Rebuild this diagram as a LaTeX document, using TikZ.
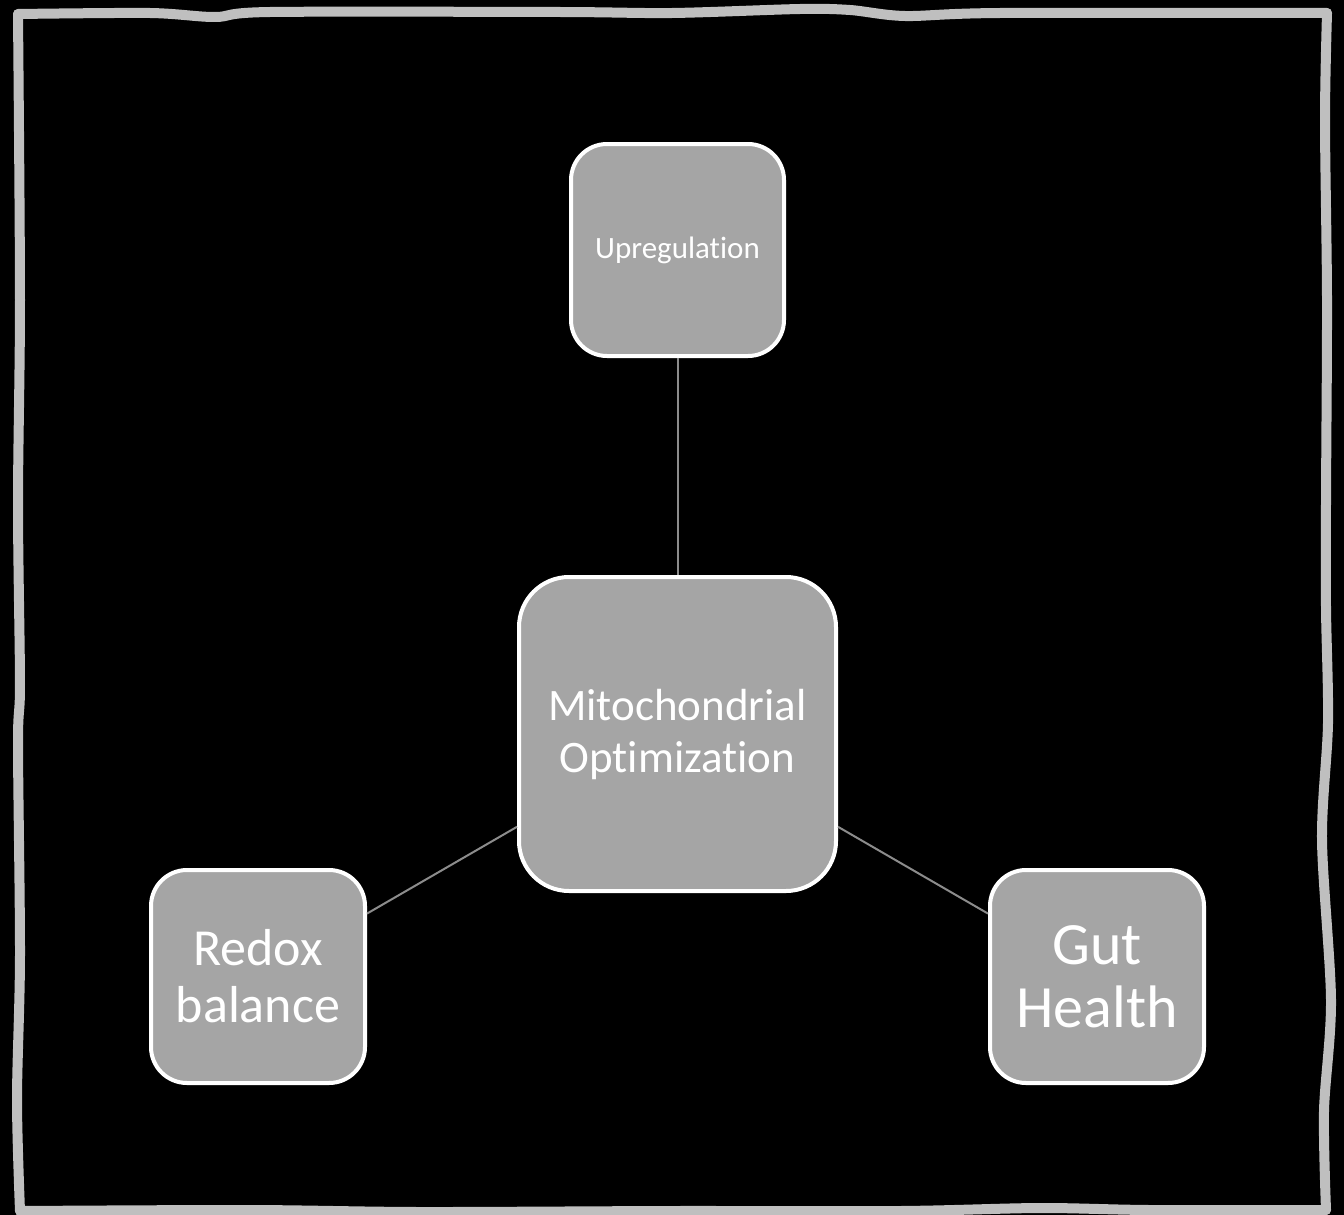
\documentclass[tikz,border=0pt]{standalone}
\usepackage{fontspec}
\setmainfont{Carlito}[Ligatures=NoCommon]
\begin{document}
\begin{tikzpicture}[x=1pt,y=-1pt,
  framestroke/.style={draw=frameGray,line width=10pt,line cap=round,line join=round},
  box/.style={draw=white,line width=4pt,fill=boxGray,rounded corners=#1,
    inner sep=0pt,align=center,text=white},
  conn/.style={draw=connGray,line width=2pt}]
\definecolor{frameGray}{HTML}{BFBFBF}
\definecolor{boxGray}{HTML}{A5A5A5}
\definecolor{connGray}{HTML}{8C8C8C}
% canvas
\fill[black] (0,0) rectangle (1344,1215);
\useasboundingbox (0,0) rectangle (1344,1215);
% hand-drawn frame
\draw[framestroke] plot[smooth,tension=0.5] coordinates {
  (18,14) (150,13) (215,17) (270,12) (560,12) (672,13)
  (800,9) (850,10) (905,16) (1000,13) (1327,13)};
\draw[framestroke] plot[smooth,tension=0.5] coordinates {
  (1327,13) (1325,120) (1327,300) (1326,500) (1326,608)
  (1328,723) (1322,840) (1331,1000) (1324,1111) (1326,1210)};
\draw[framestroke] plot[smooth,tension=0.5] coordinates {
  (1326,1210) (1150,1210) (1040,1208) (900,1211) (672,1211)
  (420,1212) (250,1210) (20,1211)};
\draw[framestroke] plot[smooth,tension=0.5] coordinates {
  (20,1211) (17,1100) (20,956) (18,743) (20,684) (18,504)
  (20,300) (18,14)};
% nodes
\node[box=36pt,minimum width=213pt,minimum height=212pt,
  font=\fontsize{31}{36}\selectfont] (up) at (677.5,250) {Upregulation};
\node[box=50pt,minimum width=317pt,minimum height=314pt,
  font=\fontsize{45}{52}\selectfont] (mito) at (677.5,734)
  {Mitochondrial\\Optimization};
\node[box=36pt,minimum width=214pt,minimum height=213pt,
  font=\fontsize{52}{57}\selectfont] (redox) at (258,976.5) {Redox\\balance};
\node[box=36pt,minimum width=214pt,minimum height=213pt,
  font=\fontsize{60}{63}\selectfont] (gut) at (1097,976.5) {Gut\\Health};
% connectors
\draw[conn] (up) -- (mito);
\draw[conn] (mito) -- (redox);
\draw[conn] (mito) -- (gut);
\end{tikzpicture}
\end{document}
